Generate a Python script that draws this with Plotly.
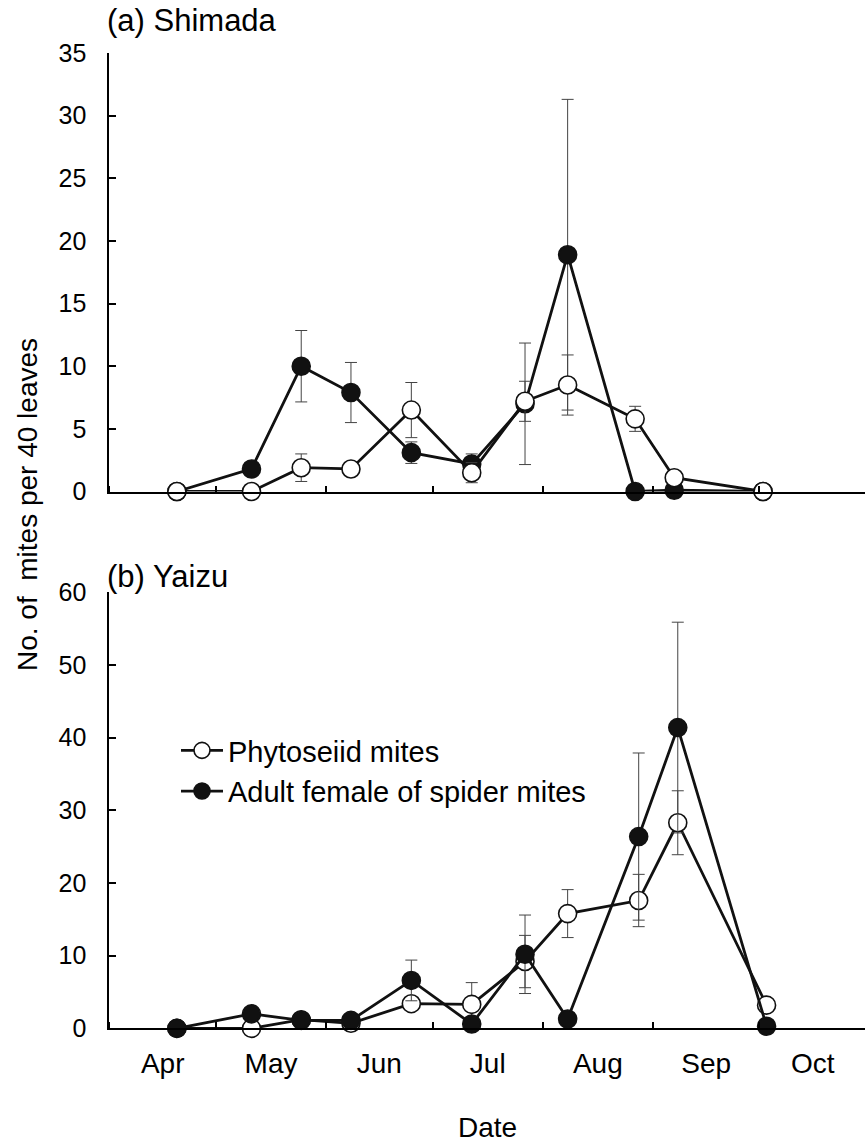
import plotly.graph_objects as go

# Sampling dates (same season, two sites)
dates_shimada = ["2010-04-20", "2010-05-11", "2010-05-25", "2010-06-08", "2010-06-25",
                 "2010-07-12", "2010-07-27", "2010-08-08", "2010-08-27", "2010-09-07",
                 "2010-10-02"]
dates_yaizu = ["2010-04-20", "2010-05-11", "2010-05-25", "2010-06-08", "2010-06-25",
               "2010-07-12", "2010-07-27", "2010-08-08", "2010-08-28", "2010-09-08",
               "2010-10-03"]

# (a) Shimada: mean counts per 40 leaves and standard errors
shimada_phyto = [0, 0, 1.9, 1.8, 6.5, 1.5, 7.2, 8.5, 5.8, 1.1, 0]
shimada_phyto_se = [0, 0, 1.1, 0, 2.2, 0.8, 1.6, 2.4, 1.0, 0, 0]
shimada_spider = [0, 1.8, 10.0, 7.9, 3.1, 2.2, 7.0, 18.9, 0, 0.1, 0]
shimada_spider_se = [0, 0, 2.85, 2.4, 0.86, 0.8, 4.85, 12.4, 0, 0, 0]

# (b) Yaizu
yaizu_phyto = [0, 0, 1.2, 0.7, 3.4, 3.3, 9.2, 15.8, 17.6, 28.3, 3.2]
yaizu_phyto_se = [0, 0, 0, 0, 0, 3.0, 3.6, 3.3, 3.6, 4.4, 0]
yaizu_spider = [0, 2.0, 1.1, 1.1, 6.6, 0.6, 10.2, 1.3, 26.4, 41.4, 0.3]
yaizu_spider_se = [0, 0, 0, 0, 2.8, 0, 5.4, 0, 11.5, 14.5, 0]

phyto_name = "Phytoseiid mites"
spider_name = "Adult female of spider mites"
month_range = ["2010-04-01", "2010-10-30 17:00"]
y_ticks_a = [0, 5, 10, 15, 20, 25, 30, 35]
y_ticks_b = [0, 10, 20, 30, 40, 50, 60]

FONT = "Liberation Sans, Arial, sans-serif"
ERR_COLOR = "#444444"


def series(x, y, se, name, filled, xaxis, yaxis, showlegend):
    return go.Scatter(
        x=x, y=y, name=name, mode="lines+markers",
        xaxis=xaxis, yaxis=yaxis, showlegend=showlegend, cliponaxis=False,
        line=dict(color="#111111", width=2.8),
        marker=dict(size=18, symbol="circle",
                    color="#111111" if filled else "white",
                    line=dict(color="#111111", width=1.6)),
        error_y=dict(type="data", array=se, visible=True, symmetric=True,
                     color=ERR_COLOR, thickness=1, width=6),
    )


fig = go.Figure()
# Top panel: open circles drawn over filled circles
fig.add_trace(series(dates_shimada, shimada_spider, shimada_spider_se, spider_name,
                     True, "x", "y", False))
fig.add_trace(series(dates_shimada, shimada_phyto, shimada_phyto_se, phyto_name,
                     False, "x", "y", False))
# Bottom panel: filled circles drawn over open circles
fig.add_trace(series(dates_yaizu, yaizu_phyto, yaizu_phyto_se, phyto_name,
                     False, "x2", "y2", True))
fig.add_trace(series(dates_yaizu, yaizu_spider, yaizu_spider_se, spider_name,
                     True, "x2", "y2", True))

W, H = 865, 1144
x_dom = [109.4 / W, 1.0]

common_x = dict(type="date", range=month_range, domain=x_dom,
                tick0="2010-04-01", dtick="M1", tickformat="%b",
                ticklabelmode="period", ticks="inside", ticklen=6, tickwidth=1.5,
                tickcolor="black", showline=True, linecolor="black", linewidth=2,
                showgrid=False, zeroline=False, automargin=False,
                tickfont=dict(family=FONT, size=28, color="black"))
common_y = dict(ticks="inside", ticklen=7, tickwidth=1.5, tickcolor="black",
                showline=True, linecolor="black", linewidth=2, showgrid=False,
                zeroline=False, automargin=False, ticklabelstandoff=16,
                tickfont=dict(family=FONT, size=25, color="black"))

fig.update_layout(
    width=W, height=H,
    margin=dict(l=0, r=0, t=0, b=0),
    paper_bgcolor="white", plot_bgcolor="rgba(0,0,0,0)",
    font=dict(family=FONT, color="black"),
    xaxis=dict(common_x, anchor="y", showticklabels=False),
    yaxis=dict(common_y, anchor="x", range=[0, 35], tickvals=y_ticks_a,
               domain=[1 - 491.5 / H, 1 - 53 / H]),
    xaxis2=dict(common_x, anchor="y2", showticklabels=True, ticklabelstandoff=9),
    yaxis2=dict(common_y, anchor="x2", range=[0, 60], tickvals=y_ticks_b,
                domain=[1 - 1028.4 / H, 1 - 592.4 / H]),
    legend=dict(x=176 / W, y=1 - 725 / H, xanchor="left", yanchor="top",
                bgcolor="rgba(0,0,0,0)", borderwidth=0, itemwidth=42,
                tracegroupgap=5,
                font=dict(family=FONT, size=29, color="black")),
    annotations=[
        dict(text="(a) Shimada", x=105 / W, y=1 - 20 / H, xref="paper", yref="paper",
             xanchor="left", yanchor="middle", showarrow=False,
             font=dict(family=FONT, size=31, color="black")),
        dict(text="(b) Yaizu", x=105 / W, y=1 - 576 / H, xref="paper", yref="paper",
             xanchor="left", yanchor="middle", showarrow=False,
             font=dict(family=FONT, size=31, color="black")),
        dict(text="No. of  mites per 40 leaves", x=27 / W, y=1 - 505 / H,
             xref="paper", yref="paper", xanchor="center", yanchor="middle",
             textangle=-90, showarrow=False,
             font=dict(family=FONT, size=28, color="black")),
        dict(text="Date", x=487 / W, y=1 - 1127 / H, xref="paper", yref="paper",
             xanchor="center", yanchor="middle", showarrow=False,
             font=dict(family=FONT, size=28, color="black")),
    ],
)

fig.write_html("out.html")
